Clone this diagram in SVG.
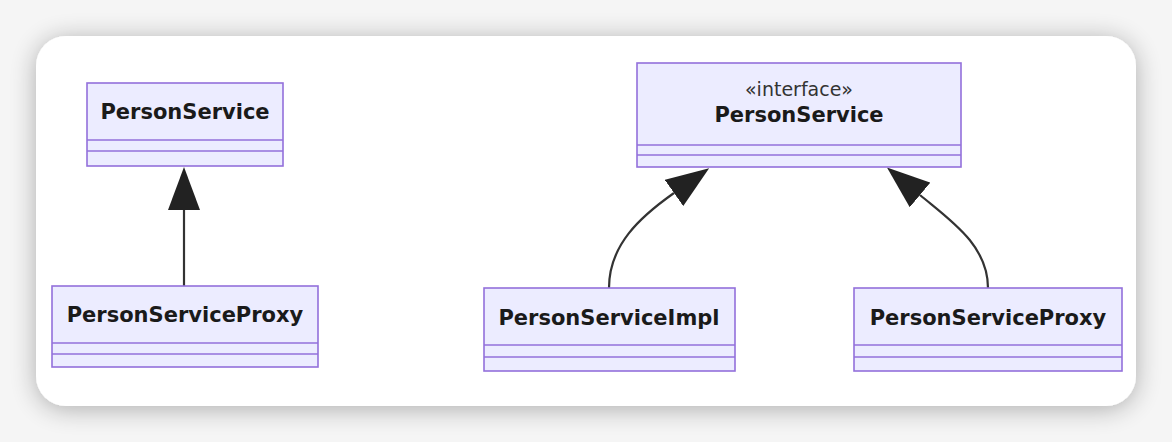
<svg xmlns="http://www.w3.org/2000/svg" width="1172" height="442" viewBox="0 0 1172 442">
<defs>
<filter id="sh" x="-10%" y="-20%" width="120%" height="140%">
<feGaussianBlur in="SourceAlpha" stdDeviation="13"/>
<feOffset dx="0" dy="3"/>
<feComponentTransfer><feFuncA type="linear" slope="0.3"/></feComponentTransfer>
<feMerge><feMergeNode/><feMergeNode in="SourceGraphic"/></feMerge>
</filter>
<marker id="tri" viewBox="0 0 43 32" refX="0" refY="16" markerWidth="43" markerHeight="32" markerUnits="userSpaceOnUse" orient="auto">
<path d="M0,0 L43,16 L0,32 Z" fill="#222"/>
</marker>
</defs>
<style>
.box{fill:#ECECFF;stroke:#9370DB;stroke-width:1.6}
.div{stroke:#9370DB;stroke-width:1.6}
.t{font-family:"DejaVu Sans",Verdana,sans-serif;font-weight:bold;font-size:21px;fill:#1a1a1a;text-anchor:middle}
.s{font-family:"DejaVu Sans",Verdana,sans-serif;font-size:19px;fill:#333;text-anchor:middle}
.e{fill:none;stroke:#333;stroke-width:2.2}
</style>
<rect width="1172" height="442" fill="#f5f5f5"/>
<rect x="36" y="36" width="1100" height="370" rx="30" fill="#ffffff" filter="url(#sh)"/>

<g id="connectors">
<path class="e" d="M184,286 L184,210" marker-end="url(#tri)"/>
<path class="e" d="M609,288 C609,245 640,217 674,193" marker-end="url(#tri)"/>
<path class="e" d="M988,288 C988,245 950,220 920,195" marker-end="url(#tri)"/>
</g>

<g id="left-PersonService">
<rect class="box" x="87" y="83" width="196" height="83"/>
<line class="div" x1="87" y1="140" x2="283" y2="140"/>
<line class="div" x1="87" y1="151" x2="283" y2="151"/>
<text class="t" x="185" y="119">PersonService</text>
</g>

<g id="left-PersonServiceProxy">
<rect class="box" x="52" y="286" width="266" height="81"/>
<line class="div" x1="52" y1="343" x2="318" y2="343"/>
<line class="div" x1="52" y1="354" x2="318" y2="354"/>
<text class="t" x="185" y="322">PersonServiceProxy</text>
</g>

<g id="right-PersonService">
<rect class="box" x="637" y="63" width="324" height="104"/>
<line class="div" x1="637" y1="145" x2="961" y2="145"/>
<line class="div" x1="637" y1="155" x2="961" y2="155"/>
<text class="s" x="799" y="96">«interface»</text>
<text class="t" x="799" y="122">PersonService</text>
</g>

<g id="right-PersonServiceImpl">
<rect class="box" x="484" y="288" width="251" height="83"/>
<line class="div" x1="484" y1="345" x2="735" y2="345"/>
<line class="div" x1="484" y1="357" x2="735" y2="357"/>
<text class="t" x="609" y="325">PersonServiceImpl</text>
</g>

<g id="right-PersonServiceProxy">
<rect class="box" x="854" y="288" width="268" height="83"/>
<line class="div" x1="854" y1="345" x2="1122" y2="345"/>
<line class="div" x1="854" y1="357" x2="1122" y2="357"/>
<text class="t" x="988" y="325">PersonServiceProxy</text>
</g>
</svg>
